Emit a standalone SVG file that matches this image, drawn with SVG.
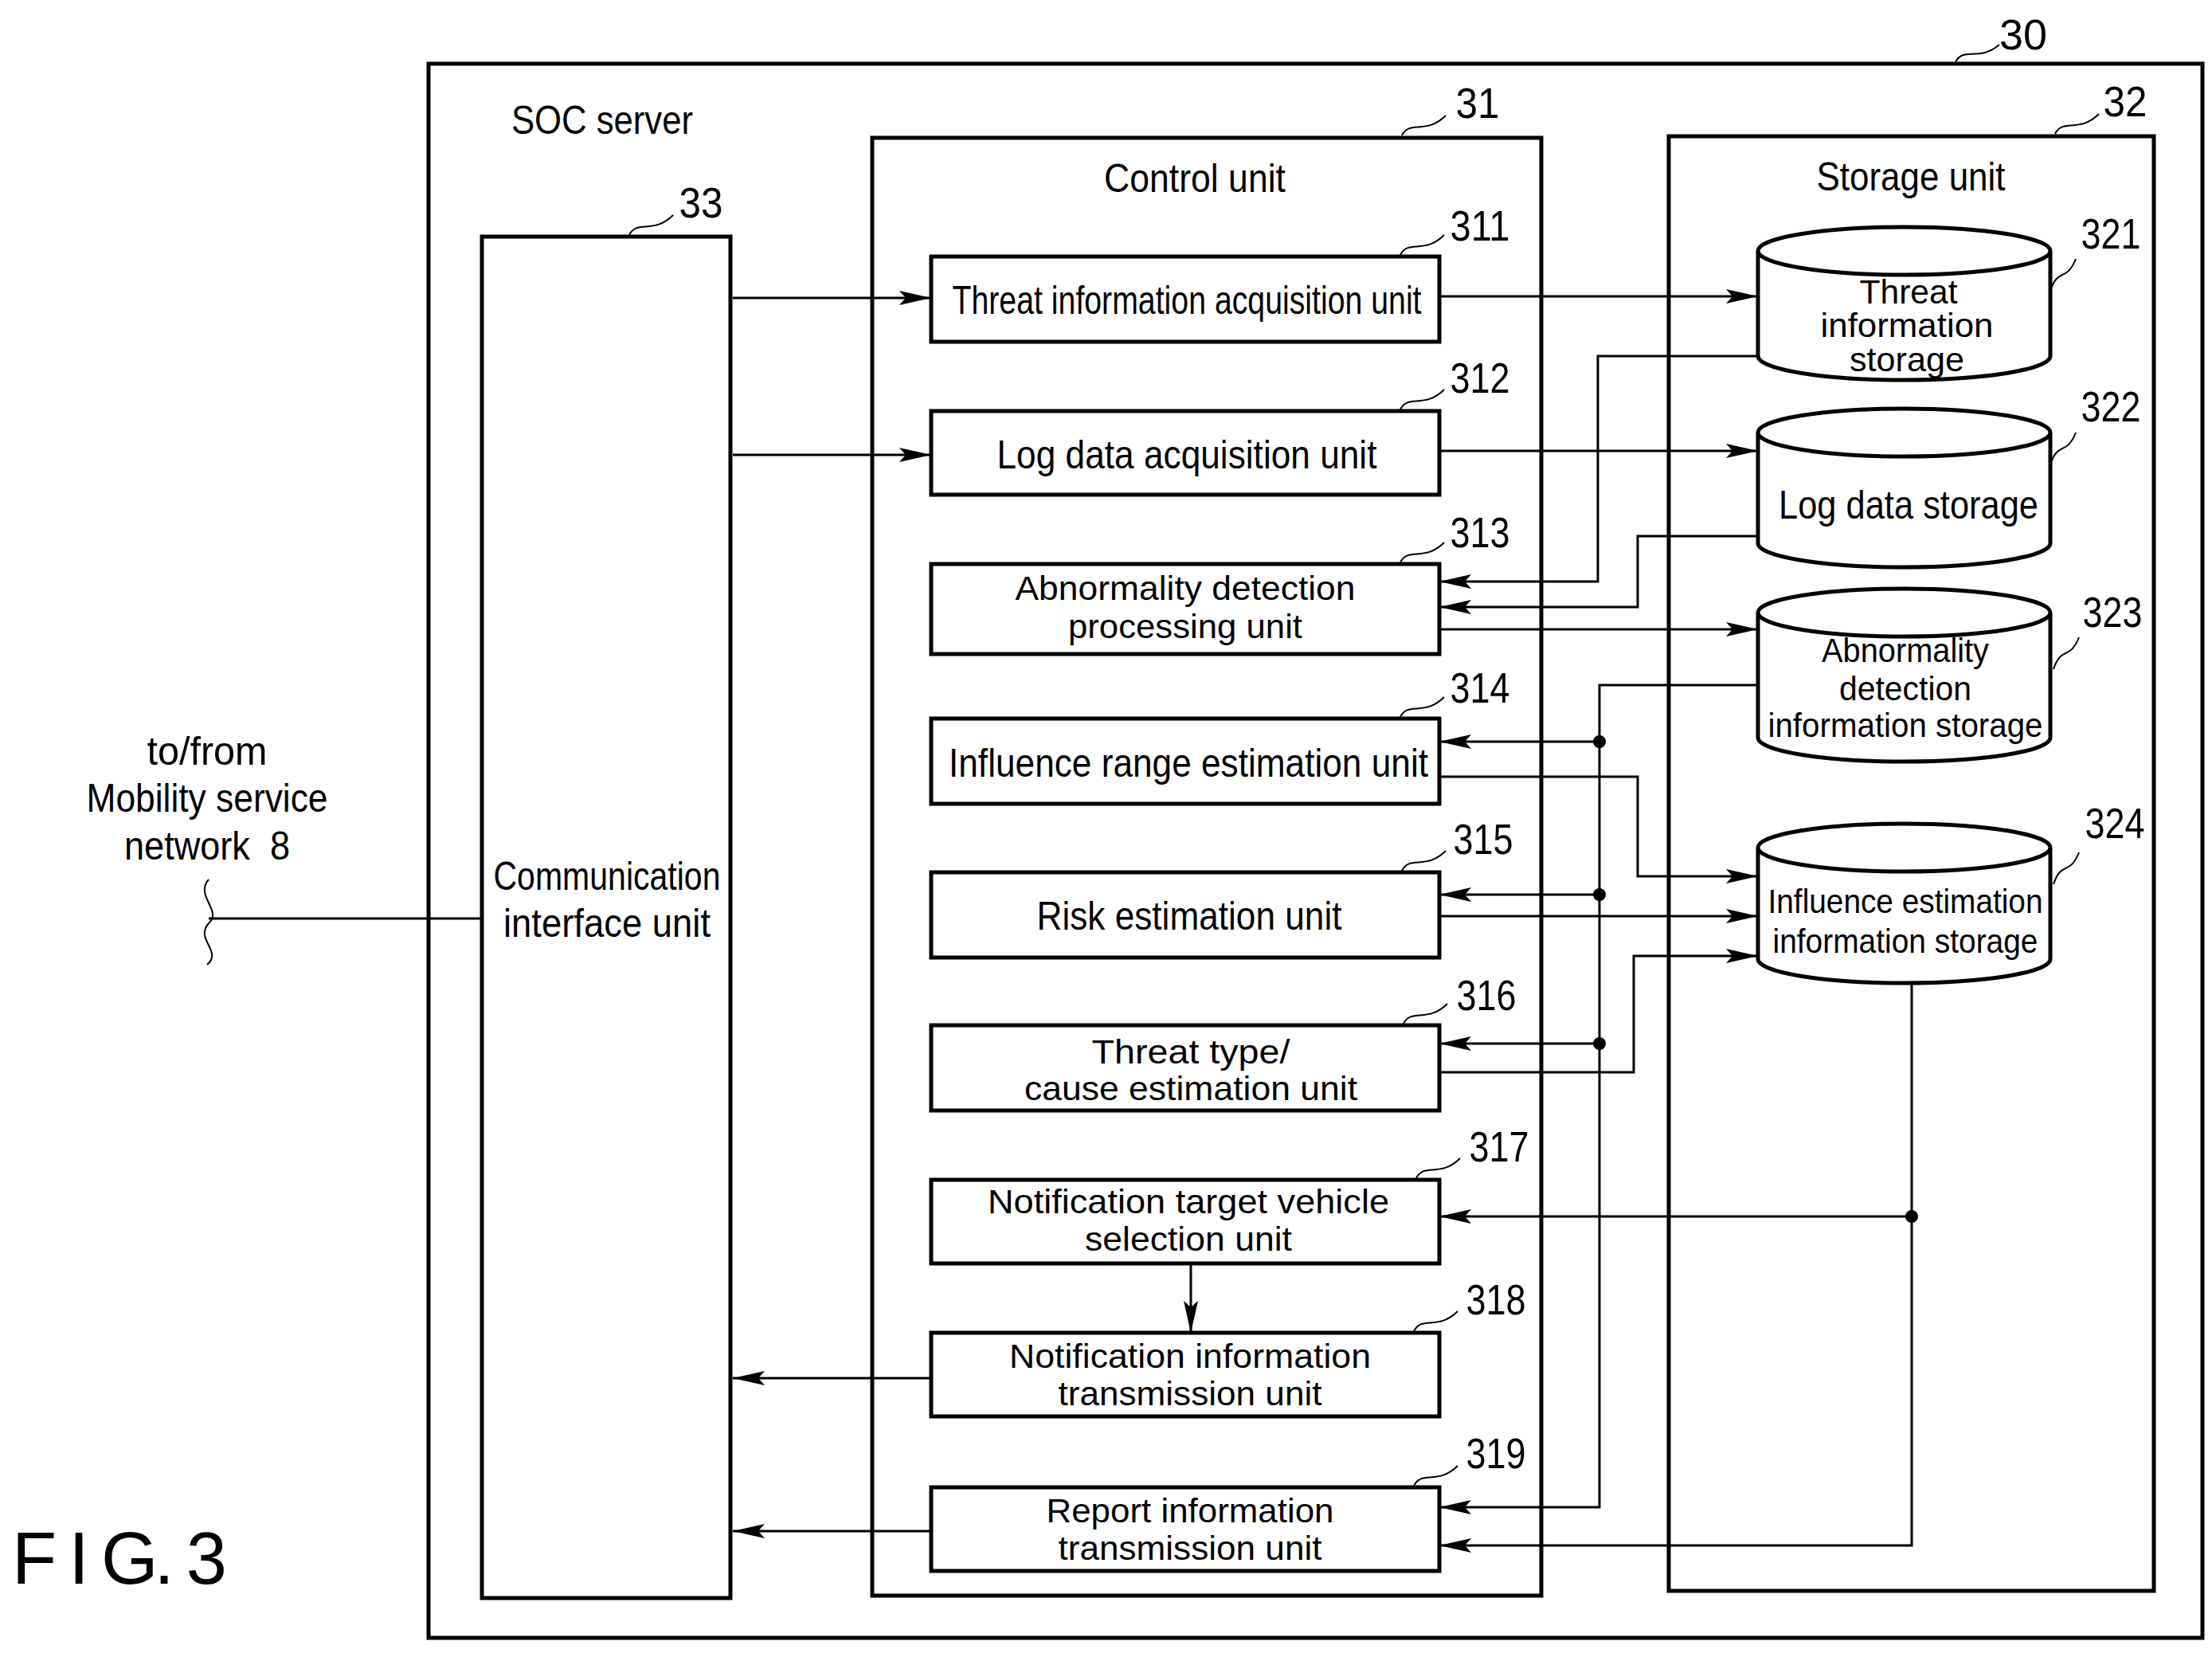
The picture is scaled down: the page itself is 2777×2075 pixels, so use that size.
<svg xmlns="http://www.w3.org/2000/svg" width="2777" height="2075" viewBox="0 0 2777 2075">
<style>
text{font-family:"Liberation Sans",Arial,sans-serif;font-size:50px;fill:#000;text-anchor:middle}
.s{font-size:43px}
.num{font-size:54px}
.box{fill:#fff;stroke:#000;stroke-width:5}
.frame{fill:none;stroke:#000;stroke-width:5}
.ln{fill:none;stroke:#000;stroke-width:3}
.arr{fill:none;stroke:#000;stroke-width:3;marker-end:url(#ah)}
.ld{fill:none;stroke:#000;stroke-width:2}
.cyl{fill:#fff;stroke:#000;stroke-width:5}
</style>
<defs>
<marker id="ah" viewBox="0 0 40 20" refX="40" refY="10" markerWidth="40" markerHeight="20" markerUnits="userSpaceOnUse" orient="auto">
<path d="M0,1 L40,10 L0,19 L8,10 Z" fill="#000"/>
</marker>
</defs>

<g id="frames">
<rect class="frame" x="538" y="80" width="2227" height="1976"/>
<text class="num" x="2540" y="62" textLength="60" lengthAdjust="spacingAndGlyphs">30</text>
<path class="ld" d="M2455,78 c10,-20 30,0 55,-22"/>
<text x="756" y="168" textLength="228" lengthAdjust="spacingAndGlyphs">SOC server</text>
<rect class="frame" x="1095" y="173" width="840" height="1830"/>
<text x="1500" y="241" textLength="228" lengthAdjust="spacingAndGlyphs">Control unit</text>
<text class="num" x="1855" y="148" textLength="55" lengthAdjust="spacingAndGlyphs">31</text>
<path class="ld" d="M1760,170 c10,-20 30,0 55,-25"/>
<rect class="frame" x="2095" y="171" width="609" height="1826"/>
<text x="2399" y="239" textLength="237" lengthAdjust="spacingAndGlyphs">Storage unit</text>
<text class="num" x="2668" y="146" textLength="55" lengthAdjust="spacingAndGlyphs">32</text>
<path class="ld" d="M2580,168 c10,-20 30,0 55,-25"/>
</g>

<g id="n33">
<rect class="box" x="605" y="297" width="312" height="1709"/>
<text x="762" y="1117" textLength="285" lengthAdjust="spacingAndGlyphs">Communication</text>
<text x="762" y="1176" textLength="260" lengthAdjust="spacingAndGlyphs">interface unit</text>
<text class="num" x="880" y="273" textLength="55" lengthAdjust="spacingAndGlyphs">33</text>
<path class="ld" d="M790,295 c10,-20 30,0 55,-25"/>
</g>

<g id="n311"><rect class="box" x="1169" y="322" width="638" height="107"/>
<text x="1490" y="394" textLength="589" lengthAdjust="spacingAndGlyphs">Threat information acquisition unit</text>
<text class="num" x="1858" y="302" textLength="75" lengthAdjust="spacingAndGlyphs">311</text>
<path class="ld" d="M1758,320 c10,-20 30,0 55,-25"/></g>

<g id="n312"><rect class="box" x="1169" y="516" width="638" height="105"/>
<text x="1490" y="588" textLength="477" lengthAdjust="spacingAndGlyphs">Log data acquisition unit</text>
<text class="num" x="1858" y="493" textLength="75" lengthAdjust="spacingAndGlyphs">312</text>
<path class="ld" d="M1758,514 c10,-20 30,0 55,-25"/></g>

<g id="n313"><rect class="box" x="1169" y="708" width="638" height="113"/>
<text class="s" x="1488" y="753" textLength="427" lengthAdjust="spacingAndGlyphs">Abnormality detection</text>
<text class="s" x="1488" y="801" textLength="294" lengthAdjust="spacingAndGlyphs">processing unit</text>
<text class="num" x="1858" y="687" textLength="75" lengthAdjust="spacingAndGlyphs">313</text>
<path class="ld" d="M1758,706 c10,-20 30,0 55,-25"/></g>

<g id="n314"><rect class="box" x="1169" y="902" width="638" height="107"/>
<text x="1492" y="975" textLength="602" lengthAdjust="spacingAndGlyphs">Influence range estimation unit</text>
<text class="num" x="1858" y="882" textLength="75" lengthAdjust="spacingAndGlyphs">314</text>
<path class="ld" d="M1758,900 c10,-20 30,0 55,-25"/></g>

<g id="n315"><rect class="box" x="1169" y="1095" width="638" height="107"/>
<text x="1493" y="1167" textLength="383" lengthAdjust="spacingAndGlyphs">Risk estimation unit</text>
<text class="num" x="1862" y="1072" textLength="75" lengthAdjust="spacingAndGlyphs">315</text>
<path class="ld" d="M1760,1093 c10,-20 30,0 55,-25"/></g>

<g id="n316"><rect class="box" x="1169" y="1287" width="638" height="107"/>
<text class="s" x="1495" y="1335" textLength="249" lengthAdjust="spacingAndGlyphs">Threat type/</text>
<text class="s" x="1495" y="1381" textLength="418" lengthAdjust="spacingAndGlyphs">cause estimation unit</text>
<text class="num" x="1866" y="1268" textLength="75" lengthAdjust="spacingAndGlyphs">316</text>
<path class="ld" d="M1762,1285 c10,-20 30,0 55,-25"/></g>

<g id="n317"><rect class="box" x="1169" y="1481" width="638" height="105"/>
<text class="s" x="1492" y="1523" textLength="504" lengthAdjust="spacingAndGlyphs">Notification target vehicle</text>
<text class="s" x="1492" y="1570" textLength="260" lengthAdjust="spacingAndGlyphs">selection unit</text>
<text class="num" x="1882" y="1458" textLength="75" lengthAdjust="spacingAndGlyphs">317</text>
<path class="ld" d="M1778,1479 c10,-20 30,0 55,-25"/></g>

<g id="n318"><rect class="box" x="1169" y="1673" width="638" height="105"/>
<text class="s" x="1494" y="1717" textLength="454" lengthAdjust="spacingAndGlyphs">Notification information</text>
<text class="s" x="1494" y="1764" textLength="331" lengthAdjust="spacingAndGlyphs">transmission unit</text>
<text class="num" x="1878" y="1650" textLength="75" lengthAdjust="spacingAndGlyphs">318</text>
<path class="ld" d="M1775,1671 c10,-20 30,0 55,-25"/></g>

<g id="n319"><rect class="box" x="1169" y="1867" width="638" height="105"/>
<text class="s" x="1494" y="1911" textLength="361" lengthAdjust="spacingAndGlyphs">Report information</text>
<text class="s" x="1494" y="1958" textLength="331" lengthAdjust="spacingAndGlyphs">transmission unit</text>
<text class="num" x="1878" y="1843" textLength="75" lengthAdjust="spacingAndGlyphs">319</text>
<path class="ld" d="M1775,1865 c10,-20 30,0 55,-25"/></g>

<g id="n321"><path class="cyl" d="M2207,315 A183.5,30 0 0 1 2574,315 V447 A183.5,30 0 0 1 2207,447 Z M2207,315 A183.5,30 0 0 0 2574,315"/>
<text class="s" x="2396" y="381" textLength="123" lengthAdjust="spacingAndGlyphs">Threat</text>
<text class="s" x="2394" y="423" textLength="217" lengthAdjust="spacingAndGlyphs">information</text>
<text class="s" x="2394" y="466" textLength="144" lengthAdjust="spacingAndGlyphs">storage</text>
<text class="num" x="2650" y="312" textLength="75" lengthAdjust="spacingAndGlyphs">321</text>
<path class="ld" d="M2574,365 c10,-30 20,-10 32,-40"/></g>

<g id="n322"><path class="cyl" d="M2207,543 A183.5,30 0 0 1 2574,543 V682 A183.5,30 0 0 1 2207,682 Z M2207,543 A183.5,30 0 0 0 2574,543"/>
<text x="2396" y="651" textLength="326" lengthAdjust="spacingAndGlyphs">Log data storage</text>
<text class="num" x="2650" y="529" textLength="75" lengthAdjust="spacingAndGlyphs">322</text>
<path class="ld" d="M2574,583 c10,-30 20,-10 32,-40"/></g>

<g id="n323"><path class="cyl" d="M2207,769 A183.5,30 0 0 1 2574,769 V926 A183.5,30 0 0 1 2207,926 Z M2207,769 A183.5,30 0 0 0 2574,769"/>
<text class="s" x="2392" y="831" textLength="210" lengthAdjust="spacingAndGlyphs">Abnormality</text>
<text class="s" x="2392" y="879" textLength="166" lengthAdjust="spacingAndGlyphs">detection</text>
<text class="s" x="2392" y="925" textLength="345" lengthAdjust="spacingAndGlyphs">information storage</text>
<text class="num" x="2652" y="787" textLength="75" lengthAdjust="spacingAndGlyphs">323</text>
<path class="ld" d="M2578,840 c10,-30 20,-10 32,-40"/></g>

<g id="n324"><path class="cyl" d="M2207,1064 A183.5,30 0 0 1 2574,1064 V1204 A183.5,30 0 0 1 2207,1204 Z M2207,1064 A183.5,30 0 0 0 2574,1064"/>
<text class="s" x="2392" y="1146" textLength="345" lengthAdjust="spacingAndGlyphs">Influence estimation</text>
<text class="s" x="2392" y="1196" textLength="333" lengthAdjust="spacingAndGlyphs">information storage</text>
<text class="num" x="2655" y="1052" textLength="75" lengthAdjust="spacingAndGlyphs">324</text>
<path class="ld" d="M2578,1110 c10,-30 20,-10 32,-40"/></g>

<g id="external">
<text x="260" y="960" textLength="151" lengthAdjust="spacingAndGlyphs">to/from</text>
<text x="260" y="1019" textLength="303" lengthAdjust="spacingAndGlyphs">Mobility service</text>
<text x="260" y="1079" textLength="208" lengthAdjust="spacingAndGlyphs" xml:space="preserve">network  8</text>
<path class="ld" d="M262,1104 c-18,20 18,40 0,55 c-18,20 18,35 -2,52"/>
<text x="150" y="1988" style="font-size:92px;text-anchor:middle" textLength="270" lengthAdjust="spacing">F I G. 3</text>
</g>

<g id="connectors">
<path class="ln" d="M262,1153 H605"/>
<path class="arr" d="M920,374 H1169"/>
<path class="arr" d="M920,571 H1169"/>
<path class="arr" d="M1807,372 H2207"/>
<path class="arr" d="M1807,566 H2207"/>
<path class="arr" d="M2207,447 H2006 V730 H1807"/>
<path class="arr" d="M2207,673 H2056 V762 H1807"/>
<path class="arr" d="M1807,790 H2207"/>
<path class="arr" d="M2207,860 H2008 V1892 H1807"/>
<path class="arr" d="M2008,931 H1807"/>
<path class="arr" d="M2008,1123 H1807"/>
<path class="arr" d="M2008,1310 H1807"/>
<circle cx="2008" cy="931" r="8"/>
<circle cx="2008" cy="1123" r="8"/>
<circle cx="2008" cy="1310" r="8"/>
<path class="arr" d="M1807,975 H2056 V1100 H2207"/>
<path class="arr" d="M1807,1150 H2207"/>
<path class="arr" d="M1807,1346 H2051 V1200 H2207"/>
<path class="arr" d="M2400,1234 V1940 H1807"/>
<path class="arr" d="M2400,1527 H1807"/>
<circle cx="2400" cy="1527" r="8"/>
<path class="arr" d="M1495,1586 V1673"/>
<path class="arr" d="M1169,1730 H920"/>
<path class="arr" d="M1169,1922 H920"/>
</g>
</svg>
